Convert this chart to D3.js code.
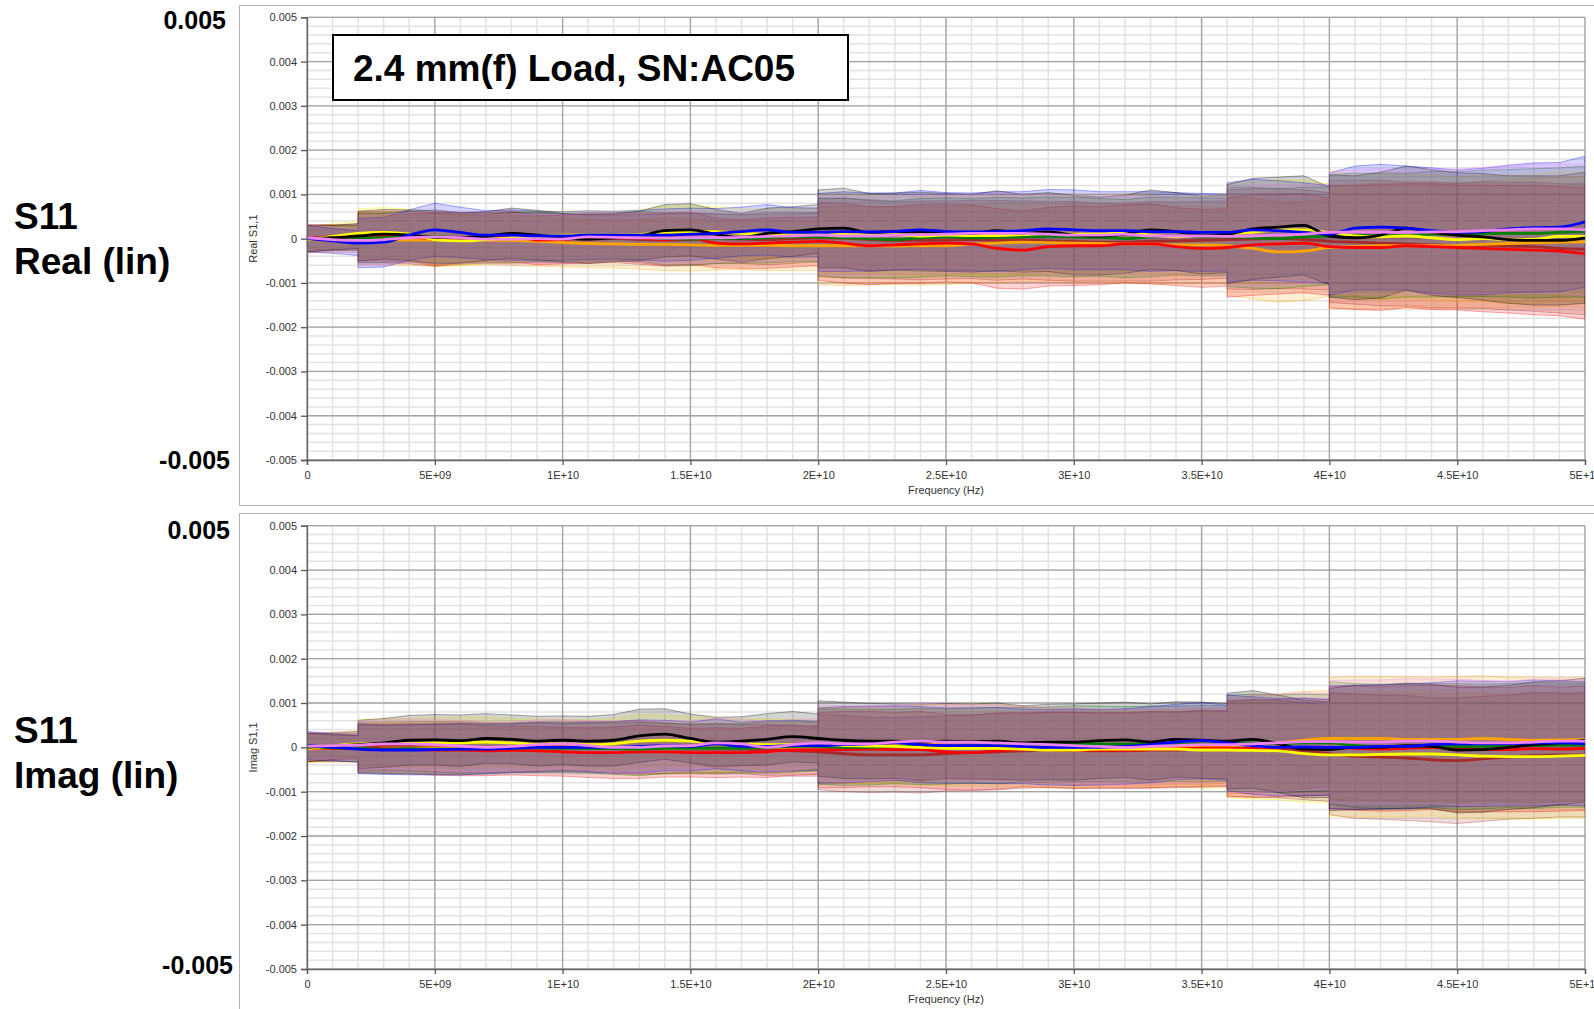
<!DOCTYPE html>
<html>
<head>
<meta charset="utf-8">
<script src="https://cdn.jsdelivr.net/npm/d3@7"></script>
<style>
  body { margin: 0; background: #fff; }
  svg { display: block; font-family: Arial, "Liberation Sans", sans-serif; }
</style>
</head>
<body>
<div id="viz"></div>
<script>
// frequency points of the traces (GHz)
var freqGHz = [0,1,2,3,4,5,6,7,8,9,10,11,12,13,14,15,16,17,18,19,20,21,22,23,24,25,
  26,27,28,29,30,31,32,33,34,35,36,37,38,39,40,41,42,43,44,45,46,47,48,49,50];

// frequency points of the uncertainty bands (GHz), band steps at 2, 20, 36, 40
var bandGHz = [0,1,2, 2,3,4,5,6,7,8,9,10,11,12,13,14,15,16,17,18,19,20,
  20,21,22,23,24,25,26,27,28,29,30,31,32,33,34,35,36, 36,37,38,39,40,
  40,41,42,43,44,45,46,47,48,49,50];

// S11 real part, units of 1e-5
var realBlack  = [0,2,6,10,8,3,2,6,12,8,2,-1,2,6,18,20,10,2,12,16,22,24,14,16,16,14,12,18,12,15,8,6,10,20,16,8,10,22,26,30,6,2,8,24,14,8,4,-2,-4,-4,2];
var realBlue   = [0,-5,-10,-8,8,20,14,8,8,6,6,8,8,8,8,10,12,16,20,14,14,16,15,16,20,16,15,16,18,22,20,18,18,16,16,14,14,20,18,14,10,24,26,24,18,14,16,22,25,26,38];
var realYellow = [-2,5,12,14,10,-2,-5,-2,2,6,8,8,8,9,14,16,16,12,10,12,12,11,10,9,6,8,7,7,9,12,10,10,14,8,4,8,12,14,20,20,14,6,4,6,2,-2,0,-2,-1,5,5];
var realRed    = [2,4,5,6,5,-1,2,4,5,-3,-2,2,4,2,-2,1,-10,-12,-10,-8,-6,-10,-16,-14,-12,-10,-12,-22,-26,-18,-16,-16,-12,-12,-18,-22,-20,-14,-12,-10,-18,-20,-20,-16,-18,-20,-22,-24,-26,-28,-34];
var realGreen  = [0,2,1,2,4,5,2,0,2,4,2,4,4,5,0,-1,0,0,2,4,4,2,0,-2,2,4,2,3,4,5,4,3,0,4,6,4,4,2,0,4,6,8,6,8,10,10,12,12,12,14,16];
var realViolet = [2,-2,-4,-2,2,4,2,-1,-1,0,-1,4,3,2,1,2,2,3,5,6,8,6,6,8,9,10,12,12,12,10,8,8,10,6,6,6,5,6,8,10,14,15,15,14,15,16,18,20,22,22,20];
var realOrange = [-2,-3,-3,-3,-3,-3,-3,-3,-4,-6,-9,-11,-12,-13,-13,-14,-15,-15,-15,-16,-16,-16,-16,-17,-16,-16,-12,-10,-8,-9,-10,-11,-12,-12,-14,-14,-16,-22,-30,-28,-20,-18,-16,-16,-16,-15,-13,-11,-9,-8,-7];
var realBrown  = [0,1,2,1,0,-2,-1,0,2,2,0,-1,0,-2,-3,-2,0,-1,-2,0,2,1,-2,-4,-4,-3,-2,-4,-3,-5,-6,-8,-8,-6,-5,-4,-2,-1,0,-2,-6,-8,-10,-12,-14,-16,-15,-17,-18,-22,-24];
// half width of the real part band, units of 1e-5
var realUnc = [30,28,28, 56,56,57,60,57,55,57,56,55,55,54,56,59,59,56,55,57,56,55,
  88,90,88,87,89,88,88,90,88,89,90,88,88,90,88,88,87, 112,114,113,112,110,
  138,140,142,140,142,141,143,144,146,146,148];

// S11 imaginary part, units of 1e-5
var imagBlack  = [0,3,6,10,16,17,15,20,18,14,16,14,16,26,30,20,12,14,18,24,20,16,14,14,12,14,13,14,10,12,12,15,17,12,18,16,14,18,8,-4,-5,0,0,4,2,-6,-5,0,6,10,16];
var imagBlue   = [4,0,-4,-6,-6,-5,-4,-4,-2,0,0,0,0,2,4,2,8,2,2,4,4,6,8,10,6,4,4,4,2,0,0,0,2,6,12,15,10,4,0,1,0,0,2,2,6,8,8,8,10,10,8];
var imagYellow = [-3,4,8,9,9,10,10,12,10,8,8,6,8,14,16,14,10,8,6,6,6,4,3,2,0,-2,-2,-2,-4,-6,-6,-4,-4,-4,-4,-6,-6,-7,-8,-14,-17,-17,-16,-15,-15,-17,-20,-21,-21,-20,-18];
var imagRed    = [0,-2,-2,-3,-4,-6,-6,-8,-7,-8,-10,-12,-12,-10,-10,-12,-12,-12,-10,-6,-6,-5,-4,-5,-5,-10,-12,-8,-5,-5,-6,-6,-6,-5,-4,-2,-2,-3,-2,0,0,-2,-4,-2,0,-3,-5,-5,-3,-4,-2];
var imagGreen  = [1,-1,-2,-4,-3,-4,-4,-3,-2,-1,-2,-2,-3,-4,-2,-2,-2,-2,0,2,2,0,0,2,2,2,4,4,6,6,8,8,7,7,8,8,9,10,8,10,10,4,2,2,4,2,2,4,4,5,5];
var imagViolet = [2,4,5,8,8,6,3,0,2,6,8,4,0,0,3,4,10,8,0,6,10,8,8,12,14,12,12,10,8,6,4,2,0,2,4,6,6,8,10,13,13,12,12,14,14,12,10,10,12,14,14];
var imagOrange = [-2,-3,-3,-2,-2,-1,-1,0,0,0,0,0,-1,-2,-3,-3,-2,-1,0,0,2,4,6,8,10,12,13,12,8,4,2,0,0,0,2,2,4,6,10,16,20,20,20,18,18,18,20,18,16,17,18];
var imagBrown  = [0,1,2,2,2,1,0,-1,0,2,3,2,0,0,-2,-4,-4,-4,-6,-8,-10,-14,-17,-17,-17,-14,-12,-10,-8,-6,-7,-8,-8,-6,-6,-4,-4,-2,-4,-8,-14,-20,-22,-24,-28,-30,-26,-22,-18,-17,-17];
var imagUnc = [32,30,30, 55,55,56,57,58,56,55,56,55,56,58,60,57,55,56,55,58,57,55,
  85,86,85,84,86,85,85,86,84,85,86,85,85,86,85,86,85, 108,110,110,110,108,
  138,140,140,141,140,142,141,140,142,140,140];

// axes
var xTickValues = [0,5e9,1e10,1.5e10,2e10,2.5e10,3e10,3.5e10,4e10,4.5e10,5e10];
var xTickLabels = ["0","5E+09","1E+10","1.5E+10","2E+10","2.5E+10","3E+10","3.5E+10","4E+10","4.5E+10","5E+10"];
var yTickValues = [0.005,0.004,0.003,0.002,0.001,0,-0.001,-0.002,-0.003,-0.004,-0.005];
var yTickLabels = ["0.005","0.004","0.003","0.002","0.001","0","-0.001","-0.002","-0.003","-0.004","-0.005"];

var colors = {black:"#000000", blue:"#0000ff", yellow:"#ffff00", red:"#ff0000",
  green:"#008000", violet:"#ee82ee", orange:"#ffa500", brown:"#a52a2a"};
var bandOrder = ["yellow","orange","red","brown","green","blue","black","violet"];
var lineOrder = ["brown","orange","red","green","yellow","black","blue","violet"];

var realSeries = {black:realBlack, blue:realBlue, yellow:realYellow, red:realRed,
  green:realGreen, violet:realViolet, orange:realOrange, brown:realBrown};
var imagSeries = {black:imagBlack, blue:imagBlue, yellow:imagYellow, red:imagRed,
  green:imagGreen, violet:imagViolet, orange:imagOrange, brown:imagBrown};

var width = 1594, height = 1009;
var plotLeft = 307, plotRight = 1585;

var panels = [
  {id:"re", top:17.3, bottom:460, frameTop:5, frameBottom:505, series:realSeries, unc:realUnc,
   yTitle:"Real S1,1", name1:"S11", name2:"Real (lin)", nameY1:216, nameY2:261,
   maxY:20.3, maxX:226, minY:460, minX:230},
  {id:"im", top:525.7, bottom:969, frameTop:513, frameBottom:1040, series:imagSeries, unc:imagUnc,
   yTitle:"Imag S1,1", name1:"S11", name2:"Imag (lin)", nameY1:729.5, nameY2:775,
   maxY:529.7, maxX:230, minY:965, minX:233}
];

var svg = d3.select("#viz").append("svg")
  .attr("width", width)
  .attr("height", height);

var x = d3.scaleLinear().domain([0, 5e10]).range([plotLeft, plotRight]);

panels.forEach(function(p) {
  var y = d3.scaleLinear().domain([-0.005, 0.005]).range([p.bottom, p.top]);

  // chart frame
  svg.append("rect")
    .attr("x", 239.5).attr("y", p.frameTop + 0.5)
    .attr("width", 1400).attr("height", p.frameBottom - p.frameTop)
    .attr("fill", "#fff").attr("stroke", "#b4b4b4");

  var g = svg.append("g");

  // minor grid
  g.selectAll(".vminor").data(d3.range(0, 51))
    .join("line")
    .attr("x1", d => x(d * 1e9)).attr("x2", d => x(d * 1e9))
    .attr("y1", p.top).attr("y2", p.bottom)
    .attr("stroke", "#e2e2e2").attr("stroke-width", 1.5);
  g.selectAll(".hminor").data(d3.range(-25, 26))
    .join("line")
    .attr("x1", plotLeft).attr("x2", plotRight)
    .attr("y1", d => y(d * 0.0002)).attr("y2", d => y(d * 0.0002))
    .attr("stroke", "#e2e2e2").attr("stroke-width", 1.5);
  // major grid
  g.selectAll(".vmajor").data(xTickValues)
    .join("line")
    .attr("x1", d => x(d)).attr("x2", d => x(d))
    .attr("y1", p.top).attr("y2", p.bottom)
    .attr("stroke", "#a4a4a4").attr("stroke-width", 1.3);
  g.selectAll(".hmajor").data(yTickValues)
    .join("line")
    .attr("x1", plotLeft).attr("x2", plotRight)
    .attr("y1", d => y(d)).attr("y2", d => y(d))
    .attr("stroke", "#a4a4a4").attr("stroke-width", 1.3);

  // clip
  svg.append("clipPath").attr("id", "clip-" + p.id)
    .append("rect").attr("x", plotLeft).attr("y", p.top)
    .attr("width", plotRight - plotLeft).attr("height", p.bottom - p.top);
  var plot = svg.append("g").attr("clip-path", "url(#clip-" + p.id + ")");

  // uncertainty bands: trace +- uncertainty
  var area = d3.area()
    .x(d => x(d.f))
    .y0(d => y(d.lo))
    .y1(d => y(d.hi));
  bandOrder.forEach(function(k) {
    var vals = p.series[k];
    var band = bandGHz.map(function(gh, i) {
      var v = vals[freqGHz.indexOf(gh)] * 1e-5, u = p.unc[i] * 1e-5;
      return {f: gh * 1e9, lo: v - u, hi: v + u};
    });
    plot.append("path").datum(band)
      .attr("d", area)
      .attr("fill", colors[k]).attr("fill-opacity", 0.17)
      .attr("stroke", colors[k]).attr("stroke-opacity", 0.35).attr("stroke-width", 1);
  });

  // traces
  var line = d3.line()
    .x((d, i) => x(freqGHz[i] * 1e9))
    .y(d => y(d * 1e-5))
    .curve(d3.curveMonotoneX);
  lineOrder.forEach(function(k) {
    plot.append("path").datum(p.series[k])
      .attr("d", line)
      .attr("fill", "none")
      .attr("stroke", colors[k]).attr("stroke-width", 2.8);
  });

  // axes
  var yAxis = d3.axisLeft(y).tickValues(yTickValues)
    .tickFormat((d, i) => yTickLabels[i]).tickSize(6).tickPadding(4);
  var ya = svg.append("g").attr("transform", "translate(" + plotLeft + ",0)").call(yAxis);
  var xAxis = d3.axisBottom(x).tickValues(xTickValues)
    .tickFormat((d, i) => xTickLabels[i]).tickSize(5).tickPadding(6);
  var xa = svg.append("g").attr("transform", "translate(0," + p.bottom + ")").call(xAxis);
  [ya, xa].forEach(function(a) {
    a.select(".domain").attr("stroke", "#666").attr("stroke-width", 1.3);
    a.selectAll(".tick line").attr("stroke", "#555").attr("stroke-width", 1.3);
    a.selectAll("text").attr("font-size", 11).attr("fill", "#333")
      .attr("font-family", "Arial, 'Liberation Sans', sans-serif");
  });

  svg.append("text")
    .attr("x", (plotLeft + plotRight) / 2).attr("y", p.bottom + 34)
    .attr("text-anchor", "middle").attr("font-size", 11).attr("fill", "#333")
    .text("Frequency (Hz)");
  svg.append("text")
    .attr("transform", "translate(257," + ((p.top + p.bottom) / 2) + ") rotate(-90)")
    .attr("text-anchor", "middle").attr("font-size", 11).attr("fill", "#333")
    .text(p.yTitle);

  // big labels on the left
  svg.append("text").attr("x", p.maxX).attr("y", p.maxY + 9)
    .attr("text-anchor", "end").attr("font-size", 25).attr("font-weight", "bold")
    .text("0.005");
  svg.append("text").attr("x", p.minX).attr("y", p.minY + 9)
    .attr("text-anchor", "end").attr("font-size", 25).attr("font-weight", "bold")
    .text("-0.005");
  svg.append("text").attr("x", 14).attr("y", p.nameY1 + 13)
    .attr("font-size", 37).attr("font-weight", "bold").text(p.name1);
  svg.append("text").attr("x", 14).attr("y", p.nameY2 + 13)
    .attr("font-size", 37).attr("font-weight", "bold").text(p.name2);
});

// title box
svg.append("rect")
  .attr("x", 333).attr("y", 35).attr("width", 515).attr("height", 65)
  .attr("fill", "#fff").attr("stroke", "#000").attr("stroke-width", 2);
svg.append("text")
  .attr("x", 353).attr("y", 81)
  .attr("font-size", 37).attr("font-weight", "bold")
  .text("2.4 mm(f) Load, SN:AC05");
</script>
</body>
</html>
